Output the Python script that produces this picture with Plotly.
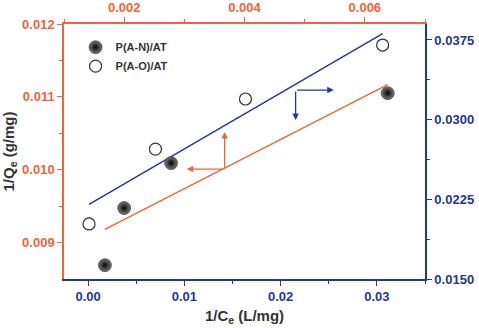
import numpy as np
import plotly.graph_objects as go

# P(A-N)/AT -> top x axis (1/Ce) and left y axis (1/Qe)
pan_x = [0.00168, 0.00200, 0.00278, 0.00638]
pan_y = [0.00869, 0.009474, 0.010091, 0.011051]
# P(A-O)/AT -> bottom x axis and right y axis
pao_x = [0.0001, 0.0070, 0.01635, 0.0306]
pao_y = [0.02018, 0.02723, 0.03194, 0.03702]

ORANGE = "#F0643A"
BLUE = "#22388F"
TXT = "#333333"
FONT = "Liberation Sans, Arial, sans-serif"

def fit(x, y):
    k, b = np.polyfit(x, y, 1)
    xs = np.array([min(x), max(x)])
    return xs, k * xs + b

fx1, fy1 = fit(pan_x, pan_y)
fx2, fy2 = fit(pao_x, pao_y)

fig = go.Figure()
# main subplot xy: bottom x + right y  (P(A-O)/AT)
fig.add_trace(go.Scatter(x=fx2, y=fy2, mode="lines", line=dict(color=BLUE, width=1.4),
                         xaxis="x", yaxis="y", showlegend=False, hoverinfo="skip"))
# overlay subplot x2y2: top x + left y  (P(A-N)/AT)
fig.add_trace(go.Scatter(x=fx1, y=fy1, mode="lines", line=dict(color=ORANGE, width=1.4),
                         xaxis="x2", yaxis="y2", showlegend=False, hoverinfo="skip"))
fig.add_trace(go.Scatter(x=pan_x, y=pan_y, mode="markers", name="P(A-N)/AT",
                         xaxis="x2", yaxis="y2",
                         marker=dict(size=13, color="#7a7a7a",
                                     gradient=dict(type="radial", color="#050505"),
                                     line=dict(width=0.5, color="#111111"))))
fig.add_trace(go.Scatter(x=pao_x, y=pao_y, mode="markers", name="P(A-O)/AT",
                         xaxis="x", yaxis="y",
                         marker=dict(size=12, color="white", line=dict(color="#333333", width=1.2))))

tickfont_o = dict(family=FONT, size=13, color=ORANGE, weight="bold")
tickfont_b = dict(family=FONT, size=13, color=BLUE, weight="bold")

common = dict(showgrid=False, zeroline=False, ticks="outside", ticklen=5, showline=True,
              linewidth=1.5, automargin=False)

fig.update_layout(
    width=479, height=328,
    margin=dict(l=64, r=54, t=24, b=49),
    plot_bgcolor="white", paper_bgcolor="white",
    xaxis=dict(range=[-0.0025, 0.035], tickvals=[0, 0.01, 0.02, 0.03], tickformat=".2f",
               side="bottom", anchor="y",
               linecolor=BLUE, tickcolor=BLUE, tickfont=tickfont_b,
               minor=dict(tickvals=[0.005, 0.015, 0.025, 0.035], ticks="outside", ticklen=3, tickcolor=BLUE),
               title=dict(text="1/C<sub>e</sub> (L/mg)", font=dict(family=FONT, size=15, color=TXT, weight="bold"), standoff=7),
               **common),
    yaxis=dict(range=[0.015, 0.039], tickvals=[0.015, 0.0225, 0.03, 0.0375], tickformat=".4f",
               side="right", anchor="x",
               linecolor=BLUE, tickcolor=BLUE, tickfont=tickfont_b,
               minor=dict(tickvals=[0.01875, 0.02625, 0.03375], ticks="outside", ticklen=3, tickcolor=BLUE),
               **common),
    xaxis2=dict(range=[0.001, 0.007], tickvals=[0.002, 0.004, 0.006], tickformat=".3f",
                overlaying="x", side="top", anchor="y2",
                linecolor=ORANGE, tickcolor=ORANGE, tickfont=tickfont_o,
                minor=dict(tickvals=[0.001, 0.003, 0.005, 0.007], ticks="outside", ticklen=3, tickcolor=ORANGE),
                **common),
    yaxis2=dict(range=[0.0085, 0.012], tickvals=[0.009, 0.010, 0.011, 0.012], tickformat=".3f",
                overlaying="y", side="left", anchor="x2",
                linecolor=ORANGE, tickcolor=ORANGE, tickfont=tickfont_o,
                minor=dict(tickvals=[0.0095, 0.0105, 0.0115], ticks="outside", ticklen=3, tickcolor=ORANGE),
                title=dict(text="1/Q<sub>e</sub> (g/mg)", font=dict(family=FONT, size=15, color=TXT, weight="bold"), standoff=5),
                **common),
    legend=dict(x=0.032, y=0.966, xanchor="left", yanchor="top", bgcolor="rgba(0,0,0,0)",
                font=dict(family=FONT, size=11, color=TXT, weight="bold"), tracegroupgap=0),
    annotations=[
        # orange arrows (left / top axes)
        dict(x=0.00367, y=0.010516, ax=0.00367, ay=0.010009, xref="x2", yref="y2", axref="x2", ayref="y2",
             showarrow=True, arrowhead=2, arrowsize=1, arrowwidth=1.3, arrowcolor=ORANGE, text=""),
        dict(x=0.00304, y=0.010009, ax=0.00367, ay=0.010009, xref="x2", yref="y2", axref="x2", ayref="y2",
             showarrow=True, arrowhead=2, arrowsize=1, arrowwidth=1.3, arrowcolor=ORANGE, text=""),
        # blue arrows (bottom / right axes)
        dict(x=0.02552, y=0.032785, ax=0.02156, ay=0.032785, xref="x", yref="y", axref="x", ayref="y",
             showarrow=True, arrowhead=2, arrowsize=1, arrowwidth=1.3, arrowcolor=BLUE, text=""),
        dict(x=0.02156, y=0.02996, ax=0.02156, ay=0.032785, xref="x", yref="y", axref="x", ayref="y",
             showarrow=True, arrowhead=2, arrowsize=1, arrowwidth=1.3, arrowcolor=BLUE, text=""),
    ],
)

fig.write_html("out.html")
